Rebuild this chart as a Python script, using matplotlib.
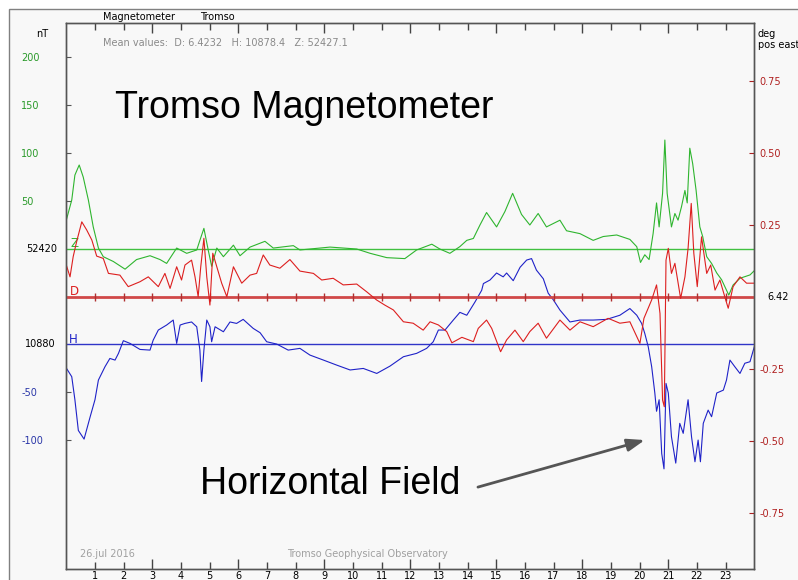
import matplotlib
matplotlib.use("Agg")
import matplotlib.pyplot as plt
from matplotlib.patches import Rectangle

# Tromso magnetometer, 26 jul 2016 -- deviations from the baselines
z_hour = [0.0, 0.19, 0.30, 0.45, 0.59, 0.77, 0.94, 1.12, 1.29, 1.64, 2.05, 2.45, 2.92, 3.27, 3.5,
          3.85, 4.2, 4.55, 4.66, 4.8, 4.95, 5.07, 5.25, 5.48, 5.83, 6.06, 6.41, 6.93, 7.22, 7.92,
          8.15, 9.2, 10.13, 10.6, 11.18, 11.81, 12.22, 12.75, 13.03, 13.38, 13.73, 13.97, 14.2,
          14.43, 14.66, 15.01, 15.3, 15.57, 15.88, 16.17, 16.46, 16.75, 17.22, 17.45, 17.92, 18.38,
          18.73, 19.2, 19.66, 19.9, 20.03, 20.18, 20.33, 20.47, 20.59, 20.68, 20.8, 20.88, 20.96,
          21.11, 21.23, 21.34, 21.46, 21.58, 21.66, 21.75, 21.85, 21.97, 22.1, 22.2, 22.34, 22.51,
          22.69, 22.86, 23.11, 23.26, 23.5, 23.85, 24.0]
z_nt = [30, 51, 77, 87.5, 75, 51, 23, 1, -8, -13, -21, -11, -7, -11, -15,
        1, -4.5, -1, 9, 21.5, -1, -18, 1, -8, 4, -7, 2, 8, 1, 3.5,
        -1, 2, 0, -4.5, -9, -10, -1, 5, 0, -4.5, 2.5, 9, 11,
        25, 38, 23, 39, 58, 36, 25, 37, 23, 30, 19, 16, 9,
        13, 14.6, 10, 2.4, -14, -6, -11, 16, 48, 23, 58, 113.5, 58,
        23, 37, 30, 44, 61, 48, 105, 89, 61, 23, 13, -8, -15,
        -25, -32, -48, -37.5, -30.5, -27, -22.6]

d_hour = [0.0, 0.13, 0.24, 0.36, 0.54, 0.71, 0.89, 1.06, 1.29, 1.47, 1.87, 2.16, 2.57, 2.86, 3.21,
          3.44, 3.62, 3.85, 4.02, 4.14, 4.37, 4.49, 4.6, 4.69, 4.8, 4.9, 5.01, 5.11, 5.25, 5.42,
          5.6, 5.83, 6.12, 6.41, 6.64, 6.87, 7.1, 7.45, 7.8, 8.15, 8.62, 8.91, 9.31, 9.66, 10.13,
          10.48, 10.82, 11.11, 11.41, 11.76, 12.1, 12.45, 12.69, 12.98, 13.27, 13.45, 13.8, 14.2,
          14.37, 14.66, 14.84, 15.15, 15.36, 15.65, 15.94, 16.17, 16.46, 16.75, 17.22, 17.57,
          17.92, 18.38, 18.9, 19.31, 19.66, 20.01, 20.15, 20.42, 20.59, 20.71, 20.8, 20.86, 20.92,
          21.0, 21.11, 21.23, 21.43, 21.58, 21.69, 21.8, 21.89, 22.01, 22.16, 22.34, 22.48, 22.63,
          22.8, 22.97, 23.09, 23.26, 23.5, 23.73, 24.0]
d_deg = [0.111, 0.07, 0.14, 0.192, 0.261, 0.233, 0.198, 0.142, 0.134, 0.082, 0.076, 0.036, 0.053, 0.07, 0.036,
         0.082, 0.03, 0.105, 0.059, 0.111, 0.128, 0.07, 0.001, 0.105, 0.204, 0.07, -0.028, 0.152, 0.105, 0.048,
         0.001, 0.105, 0.048, 0.076, 0.082, 0.146, 0.111, 0.1, 0.13, 0.09, 0.082, 0.059, 0.065, 0.042, 0.045,
         0.018, -0.01, -0.028, -0.045, -0.086, -0.091, -0.115, -0.086, -0.097, -0.12, -0.159, -0.14, -0.155,
         -0.109, -0.08, -0.109, -0.19, -0.149, -0.115, -0.155, -0.12, -0.091, -0.143, -0.08, -0.115,
         -0.086, -0.103, -0.074, -0.091, -0.086, -0.161, -0.074, -0.01, 0.042, -0.057, -0.358, -0.381, 0.128,
         0.169, 0.082, 0.117, -0.005, 0.07, 0.169, 0.325, 0.152, 0.036, 0.209, 0.082, 0.111, 0.024,
         0.059, 0.001, -0.039, 0.036, 0.07, 0.048, 0.048]

h_hour = [0.0, 0.19, 0.3, 0.42, 0.62, 0.83, 1.0, 1.12, 1.35, 1.52, 1.7, 1.82, 1.99, 2.22, 2.57,
          2.92, 3.03, 3.21, 3.5, 3.73, 3.85, 3.97, 4.14, 4.37, 4.55, 4.66, 4.72, 4.8, 4.9, 5.01,
          5.07, 5.19, 5.48, 5.71, 5.94, 6.17, 6.52, 6.76, 6.99, 7.34, 7.74, 8.15, 8.5, 8.97, 9.43,
          9.9, 10.36, 10.83, 11.29, 11.76, 12.22, 12.57, 12.8, 12.98, 13.21, 13.5, 13.73, 13.97,
          14.26, 14.49, 14.55, 14.78, 15.01, 15.24, 15.36, 15.59, 15.83, 16.06, 16.23, 16.4, 16.64,
          16.81, 16.99, 17.22, 17.57, 17.92, 18.38, 18.85, 19.31, 19.66, 19.9, 20.07, 20.18, 20.3,
          20.42, 20.53, 20.59, 20.68, 20.77, 20.85, 20.92, 21.0, 21.11, 21.26, 21.4, 21.52, 21.69,
          21.81, 21.93, 22.04, 22.12, 22.22, 22.39, 22.51, 22.69, 22.92, 23.03, 23.15, 23.32, 23.5,
          23.67, 23.85, 24.0]
h_nt = [-25, -34, -58, -90, -99, -76, -58, -37.5, -23.6, -15, -16.7, -9.7, 3.5, 0.7, -5.6,
        -6.3, 4, 14.6, 19.8, 25, 0.7, 19.8, 21.5, 23, 18, -6.3, -39, -6.3, 25, 18,
        2.4, 18, 12.8, 23, 21.5, 25.7, 16.3, 11.8, 2.4, 0, -6.3, -4.5, -11.5, -16.7, -21.9,
        -27, -25.4, -30.6, -23, -13.2, -9.7, -4.5, 2.4, 14.6, 14.6, 25, 33, 30,
        44, 56, 63, 66.7, 74, 70, 74, 66, 80, 87.5, 89, 77, 68,
        53, 46, 35.4, 23, 25, 25, 25.7, 30, 37, 30, 21.5, 11, -2.8,
        -23.6, -51, -70, -58, -114, -130, -41, -51, -96.5, -124, -82.6, -93, -58,
        -96.5, -122.6, -100, -122.6, -82.6, -68.8, -75.7, -51, -48, -37.5, -16.7, -23.6, -30.6,
        -20, -18.4, -2.8]

hours = list(range(1, 24))
z_ticks = [200, 150, 100, 50]
h_ticks = [-50, -100]
d_ticks = [0.75, 0.50, 0.25, -0.25, -0.50, -0.75]

H_OFF = -99   # H baseline drawn 99 nT below the Z baseline
W, H = 798, 580

GREEN, RED, BLUE = '#2fb52f', '#dd1f1f', '#1f22c8'

fig = plt.figure(figsize=(W / 100, H / 100), dpi=100, facecolor='white')
fig.patches.append(Rectangle((9 / W, -0.01), 1.0, (H - 9) / H + 0.01, transform=fig.transFigure,
                             facecolor='#f8f8f8', edgecolor='#808080', lw=1, zorder=-10))

ax = fig.add_axes([66.3 / W, 11 / H, 688 / W, 546 / H])
ax.set_facecolor('none')
ax.set_xlim(0, 24)
ax.set_ylim(-333.3, 235.4)
ax2 = ax.twinx()
ax2.set_ylim(-0.9444, 0.9514)

for a in (ax, ax2):
    for s in a.spines.values():
        s.set_color('#555555')
        s.set_linewidth(1)

# baselines
ax.axhline(0, color='#40c040', lw=1)
ax.axhline(H_OFF, color='#3035c8', lw=1)
ax2.axhline(0, color='#d04848', lw=2)
ax2.plot(range(1, 24), [0] * 23, ls='none', marker='|', ms=6, mew=1, color='#b03030')

ax.plot(z_hour, z_nt, color=GREEN, lw=0.8)
ax.plot(h_hour, [v + H_OFF for v in h_nt], color=BLUE, lw=0.8)
ax2.plot(d_hour, d_deg, color=RED, lw=0.8)

lab = dict(xycoords=('axes fraction', 'data'), textcoords='offset pixels', fontsize=8.5, va='center', ha='left')
ax.annotate('Z', xy=(0, 0), xytext=(4, 6), color=GREEN, **lab)
ax.annotate('H', xy=(0, H_OFF), xytext=(3, 5), color=BLUE, **lab)
ax2.annotate('D', xy=(0, 0), xytext=(4, 6), color=RED, **lab)

# x ticks (longer every 3 hours)
major = [h for h in hours if h % 3 == 0]
minor = [h for h in hours if h % 3 != 0]
ax.set_xticks(major, [str(h) for h in major])
ax.set_xticks(minor, [str(h) for h in minor], minor=True)
ax.tick_params(axis='x', which='both', direction='in', top=True, color='#444444',
               labelsize=7, pad=1.5, width=1)
ax.tick_params(axis='x', which='major', length=7)
ax.tick_params(axis='x', which='minor', length=5)

# left axis
ax.set_yticks(z_ticks + [v + H_OFF for v in h_ticks], [str(v) for v in z_ticks + h_ticks])
ax.tick_params(axis='y', direction='in', length=3.6, color='#555555', labelsize=7, pad=32.4)
for t, c in zip(ax.get_yticklabels(), ['#2a9a2a'] * 4 + ['#2a36a8'] * 2):
    t.set_color(c)
    t.set_horizontalalignment('left')
base = dict(xycoords=('axes fraction', 'data'), textcoords='offset pixels', fontsize=7, va='center')
ax.annotate('52420', xy=(0, 0), xytext=(-9, 0), ha='right', **base)
ax.annotate('10880', xy=(0, H_OFF), xytext=(-11, 0), ha='right', **base)

# right axis
ax2.set_yticks(d_ticks, ['%.2f' % v for v in d_ticks])
ax2.tick_params(axis='y', direction='in', length=3.6, color='#aa2222', labelsize=7, pad=3.6,
                labelcolor='#b02020')
ax2.annotate('6.42', xy=(1, 0), xytext=(13, 0), ha='left', **base)


def fx(x):
    return x / W


def fy(y):
    return 1 - y / H


fig.text(fx(36), fy(34), 'nT', fontsize=7, va='center')
fig.text(fx(758), fy(34), 'deg', fontsize=7, va='center')
fig.text(fx(758), fy(45), 'pos east', fontsize=7, va='center')
fig.text(fx(103), fy(17), 'Magnetometer', fontsize=7, va='center')
fig.text(fx(200), fy(17), 'Tromso', fontsize=7, va='center')
fig.text(fx(103), fy(43), 'Mean values:  D: 6.4232   H: 10878.4   Z: 52427.1', fontsize=7,
         color='#8a8a8a', va='center')
fig.text(fx(80), fy(554), '26.jul 2016', fontsize=7, color='#a0a0a0', va='center')
fig.text(fx(287), fy(554), 'Tromso Geophysical Observatory', fontsize=7, color='#a0a0a0', va='center')

fig.text(fx(115), fy(118), 'Tromso Magnetometer', fontsize=27, family='Liberation Sans', va='baseline')
fig.text(fx(200), fy(494), 'Horizontal Field', fontsize=27, family='Liberation Sans', va='baseline')
ax.annotate('', xy=(20.18, -199), xytext=(14.36, -248),
            arrowprops=dict(arrowstyle='-|>,head_length=0.7,head_width=0.25', color='#555555',
                            lw=2, mutation_scale=15, shrinkA=0, shrinkB=0))

fig.savefig('out.png', dpi=100)
